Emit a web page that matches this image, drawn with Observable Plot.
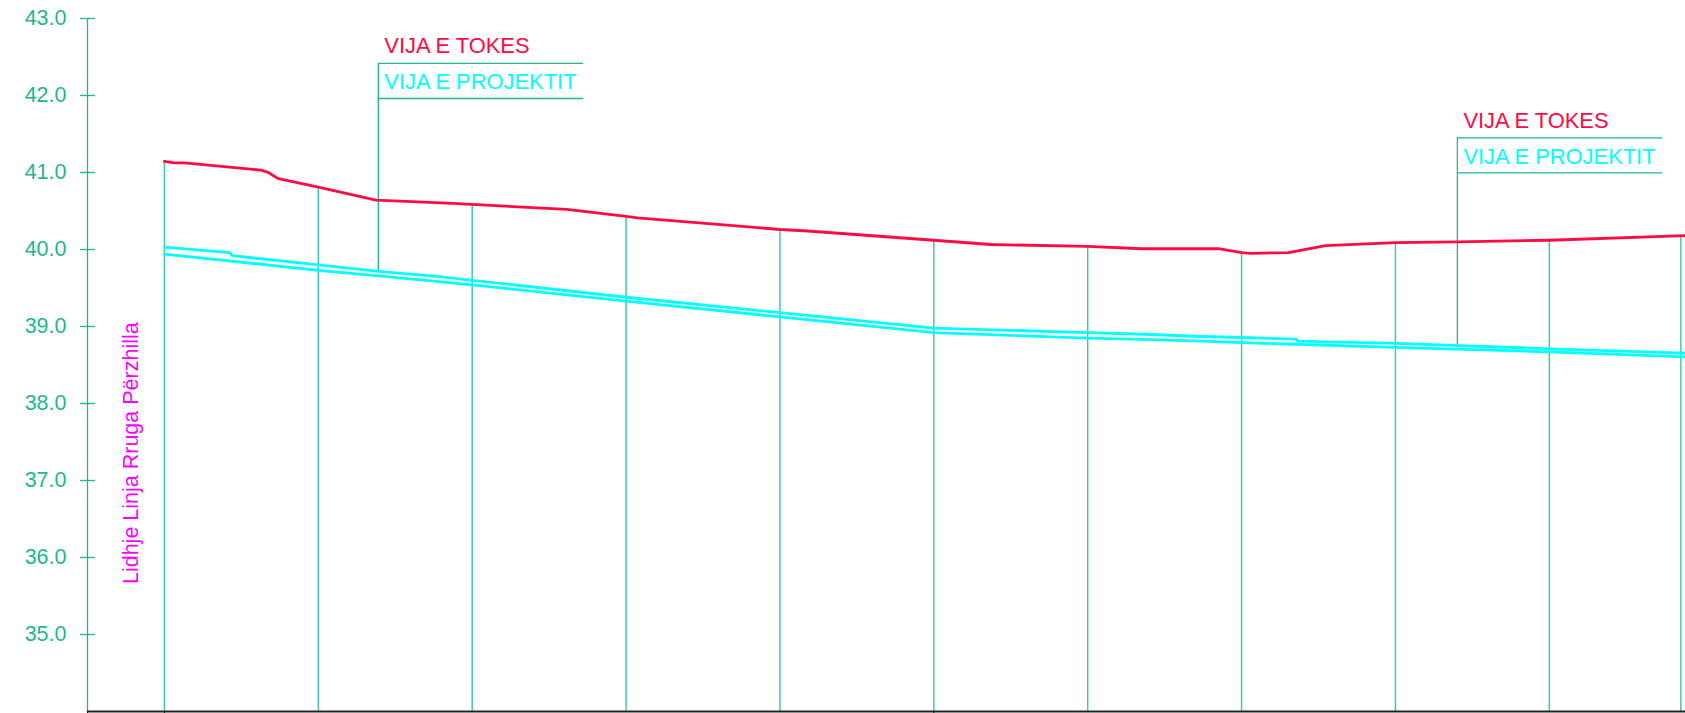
<!DOCTYPE html>
<html>
<head>
<meta charset="utf-8">
<script src="https://cdn.jsdelivr.net/npm/d3@7"></script>
<script src="https://cdn.jsdelivr.net/npm/@observablehq/plot@0.6"></script>
<style>
  html, body { margin: 0; padding: 0; background: #fff; overflow: hidden; }
  #chart svg { display: block; }
</style>
</head>
<body>
<div id="chart"></div>
<script>
// ---- data (chainage in m, elevation in m) ----
const yTicks = [35, 36, 37, 38, 39, 40, 41, 42, 43];
const xTicks = [-10, 0, 100];

// ground line "VIJA E TOKES"
const terrainX = [0, 1.3, 2.6, 12.6, 13.5, 14.8, 20, 27.5, 36, 40, 52.3, 60, 61.5, 80, 83.6, 100, 107.4, 120, 127, 137, 140, 141.2, 146.1, 150.9, 160, 168, 180, 197.7];
const terrainZ = [41.145, 41.125, 41.125, 41.03, 41.0, 40.92, 40.81, 40.64, 40.605, 40.585, 40.52, 40.43, 40.41, 40.26, 40.24, 40.12, 40.065, 40.04, 40.01, 40.01, 39.96, 39.95, 39.96, 40.05, 40.09, 40.10, 40.12, 40.18];

// project line "VIJA E PROJEKTIT" (upper edge)
const pipeTopX = [0, 8.5, 8.8, 20, 27.5, 36, 40, 60, 80, 100, 120, 128.2, 134.8, 140, 147.1, 147.3, 160, 180, 197.7];
const pipeTopZ = [40.03, 39.96, 39.92, 39.80, 39.72, 39.645, 39.60, 39.38, 39.18, 38.98, 38.92, 38.896, 38.87, 38.857, 38.835, 38.81, 38.78, 38.71, 38.655];

// project line (lower edge)
const pipeBotX = [0, 20, 27.5, 36, 40, 60, 80, 100, 120, 128.2, 134.8, 140, 160, 180, 197.7];
const pipeBotZ = [39.94, 39.73, 39.66, 39.58, 39.54, 39.33, 39.125, 38.92, 38.85, 38.83, 38.81, 38.79, 38.73, 38.67, 38.605];

// stations (vertical lines) and ground elevation at each
const stationX = [0, 20, 40, 60, 80, 100, 120, 140, 160, 180, 197.1];
const stationZ = [41.145, 40.81, 40.585, 40.43, 40.26, 40.12, 40.04, 39.96, 40.09, 40.12, 40.18];

// leader labels
const labelX = [27.8, 168.05];
const labelTop = [42.416, 41.449];
const labelPipe = [39.715, 38.76];
const labelWidth = 26.7;
const labelGap = 0.455;
const labelTexts = ["VIJA E TOKES", "VIJA E PROJEKTIT"];

const sideTitle = "Lidhje Linja Rruga Përzhilla";

// ---- build tables ----
const terrain = terrainX.map((x, i) => ({x, z: terrainZ[i]}));
const pipeTop = pipeTopX.map((x, i) => ({x, z: pipeTopZ[i]}));
const pipeBot = pipeBotX.map((x, i) => ({x, z: pipeBotZ[i]}));
const stations = stationX.map((x, i) => ({x, z: stationZ[i]}));
const labels = labelX.map((x, i) => ({x, top: labelTop[i], pipe: labelPipe[i]}));

const GREEN = "#1bb98c";
const TEAL = "#3ecba6";
const RED = "#ff0a45";
const CYAN = "#00ffff";
const MAGENTA = "#ff00ff";
const FONT = "'Liberation Sans', Arial, Helvetica, sans-serif";

const chart = Plot.plot({
  width: 1685,
  height: 713,
  marginLeft: 87,
  marginRight: 0,
  marginTop: 18,
  marginBottom: 2,
  style: {fontFamily: FONT, background: "#fff"},
  x: {domain: [-10, 197.7]},
  y: {domain: [34, 43]},
  marks: [
    // station verticals
    Plot.ruleX(stations, {x: "x", y1: 34, y2: "z", stroke: TEAL, strokeWidth: 1.5}),
    // leader lines
    Plot.ruleX(labels, {x: "x", y1: "pipe", y2: "top", stroke: GREEN, strokeWidth: 1.3}),
    Plot.ruleY(labels, {y: "top", x1: "x", x2: d => d.x + labelWidth, stroke: GREEN, strokeWidth: 1.3}),
    Plot.ruleY(labels, {y: d => d.top - labelGap, x1: "x", x2: d => d.x + labelWidth, stroke: GREEN, strokeWidth: 1.3}),
    Plot.text(labels, {x: "x", y: "top", text: () => labelTexts[0], dx: 6, dy: -10, textAnchor: "start", lineAnchor: "bottom", fill: RED, fontSize: 21.9, fontFamily: FONT}),
    Plot.text(labels, {x: "x", y: "top", text: () => labelTexts[1], dx: 6, dy: 26, textAnchor: "start", lineAnchor: "bottom", fill: CYAN, fontSize: 21.9, fontFamily: FONT}),
    // project lines
    Plot.line(pipeTop, {x: "x", y: "z", stroke: CYAN, strokeWidth: 2.8}),
    Plot.line(pipeBot, {x: "x", y: "z", stroke: CYAN, strokeWidth: 2.8}),
    // ground line
    Plot.line(terrain, {x: "x", y: "z", stroke: RED, strokeWidth: 2.8, curve: "linear"}),
    // y axis
    Plot.ruleX([-10], {stroke: GREEN, strokeWidth: 1.3}),
    Plot.axisY({ticks: yTicks, tickSize: 15, dx: 8, tickPadding: 14, tickFormat: d => d.toFixed(1), fontSize: 21.5, color: GREEN, stroke: GREEN, fill: GREEN, strokeWidth: 1.3, label: null}),
    // x axis
    Plot.ruleY([34], {stroke: "#222", strokeWidth: 2}),
    Plot.axisX({ticks: xTicks, tickSize: 6, tickFormat: () => "", stroke: "#111", label: null}),
    // side title
    Plot.text([sideTitle], {x: -4.3, y: 37.355, text: d => d, rotate: -90, textAnchor: "middle", lineAnchor: "middle", fill: MAGENTA, fontSize: 21.5, fontFamily: FONT})
  ]
});
document.getElementById("chart").append(chart);
</script>
</body>
</html>
